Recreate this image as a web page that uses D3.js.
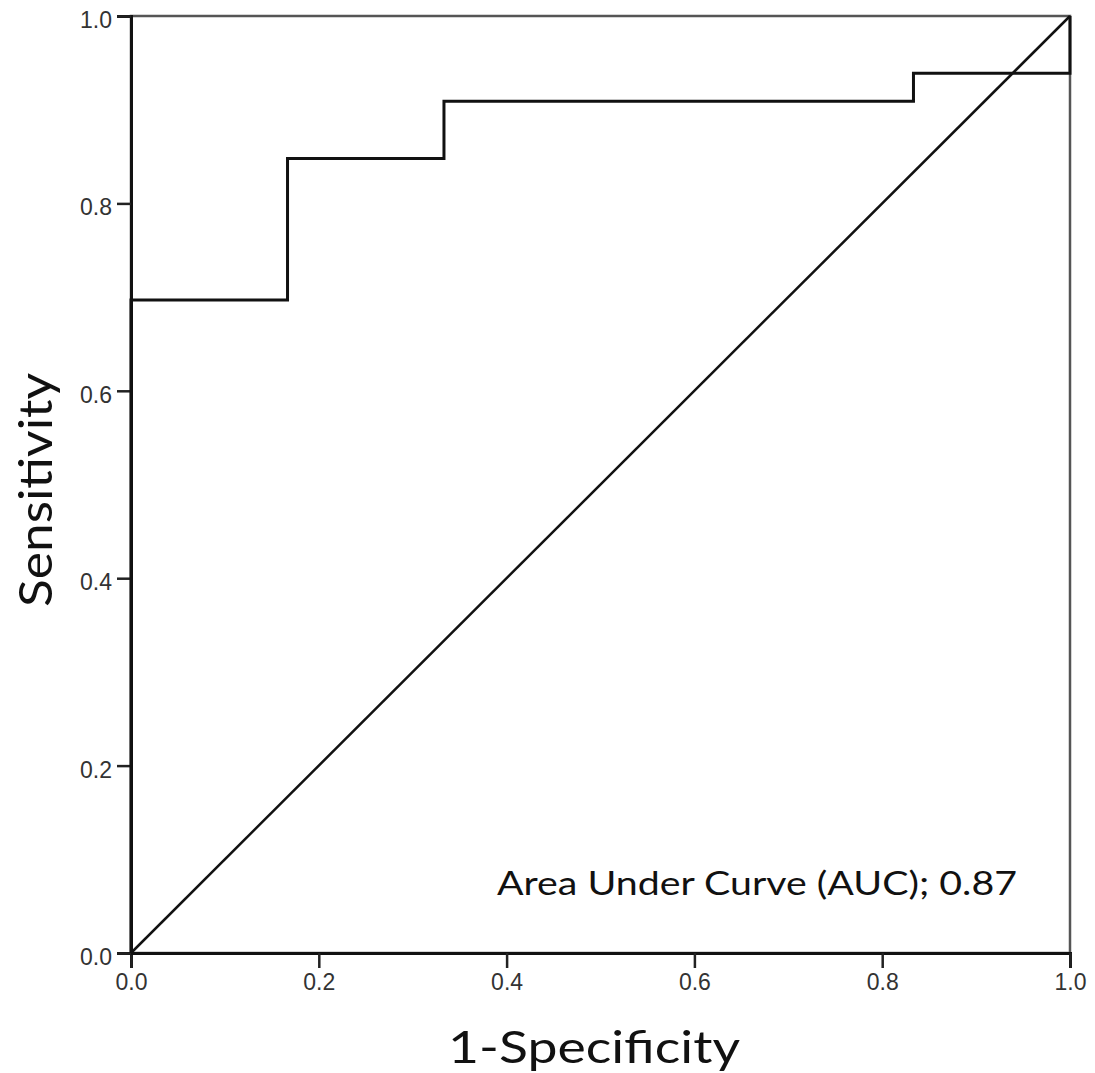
<!DOCTYPE html>
<html>
<head>
<meta charset="utf-8">
<script src="https://cdn.jsdelivr.net/npm/d3@7"></script>
<style>
  body { margin: 0; background: #fff; }
  svg { display: block; }
</style>
</head>
<body>
<svg id="chart"></svg>
<script>
// ROC curve steps (1-specificity, sensitivity)
var fpr = [0, 0, 0.1667, 0.1667, 0.3333, 0.3333, 0.8333, 0.8333, 1, 1];
var tpr = [0, 0.697, 0.697, 0.848, 0.848, 0.909, 0.909, 0.939, 0.939, 1];
var refLine = [[0, 0], [1, 1]];
var tickValues = [0, 0.2, 0.4, 0.6, 0.8, 1.0];
var aucLabel = "Area Under Curve (AUC); 0.87";
var xTitle = "1-Specificity";
var yTitle = "Sensitivity";

var width = 1095, height = 1073;
var margin = {top: 16, right: 25, bottom: 120, left: 131};

var svg = d3.select("#chart")
  .attr("width", width)
  .attr("height", height);

var x = d3.scaleLinear().domain([0, 1]).range([margin.left, width - margin.right]);
var y = d3.scaleLinear().domain([0, 1]).range([height - margin.bottom, margin.top]);

// frame (top / right)
svg.append("rect")
  .attr("x", x(0)).attr("y", y(1))
  .attr("width", x(1) - x(0)).attr("height", y(0) - y(1))
  .attr("fill", "none")
  .attr("stroke", "#555")
  .attr("stroke-width", 2.5);

// axes
var xAxis = d3.axisBottom(x).tickValues(tickValues).tickFormat(d3.format(".1f")).tickSize(15).tickPadding(6);
var yAxis = d3.axisLeft(y).tickValues(tickValues).tickFormat(d3.format(".1f")).tickSize(14).tickPadding(5);

var gx = svg.append("g")
  .attr("transform", "translate(0," + y(0) + ")")
  .call(xAxis);
var gy = svg.append("g")
  .attr("transform", "translate(" + x(0) + ",0)")
  .call(yAxis);

[gx, gy].forEach(function(g) {
  g.select(".domain").attr("stroke", "#111").attr("stroke-width", 3);
  g.selectAll(".tick line").attr("stroke", "#222").attr("stroke-width", 2.5);
  g.selectAll(".tick text")
    .attr("fill", "#333")
    .style("font-family", "'Liberation Sans', Arial, sans-serif")
    .style("font-size", "23px");
});
gy.selectAll(".tick text").attr("dy", "0.5em");

// reference diagonal
var line = d3.line()
  .x(function(d) { return x(d[0]); })
  .y(function(d) { return y(d[1]); });

svg.append("path")
  .datum(refLine)
  .attr("d", line)
  .attr("fill", "none")
  .attr("stroke", "#111")
  .attr("stroke-width", 2.5);

// ROC curve
var pts = fpr.map(function(v, i) { return [v, tpr[i]]; });
svg.append("path")
  .datum(pts)
  .attr("d", line)
  .attr("fill", "none")
  .attr("stroke", "#111")
  .attr("stroke-width", 3)
  .attr("stroke-linejoin", "miter");

// texts
var titleFont = "Lato, 'Open Sans', sans-serif";

svg.append("text")
  .attr("x", 497).attr("y", 895)
  .attr("textLength", 520)
  .attr("lengthAdjust", "spacingAndGlyphs")
  .style("font-family", titleFont)
  .style("font-size", "32px")
  .attr("fill", "#111")
  .text(aucLabel);

svg.append("text")
  .attr("x", 448).attr("y", 1063)
  .attr("textLength", 292)
  .attr("lengthAdjust", "spacingAndGlyphs")
  .style("font-family", titleFont)
  .style("font-size", "45px")
  .attr("fill", "#111")
  .text(xTitle);

svg.append("text")
  .attr("transform", "translate(52,607) rotate(-90)")
  .attr("textLength", 234)
  .attr("lengthAdjust", "spacingAndGlyphs")
  .style("font-family", titleFont)
  .style("font-size", "47px")
  .attr("fill", "#111")
  .text(yTitle);
</script>
</body>
</html>
